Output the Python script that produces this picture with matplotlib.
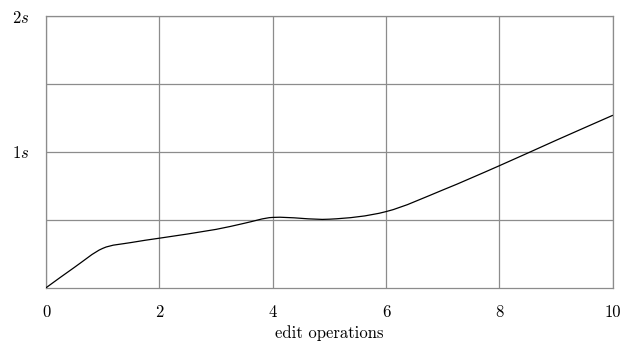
"""Runtime vs. number of edit operations (smooth curve, pgfplots look)."""
import matplotlib

matplotlib.use("Agg")
import matplotlib.pyplot as plt
import numpy as np
from matplotlib.patches import PathPatch
from matplotlib.path import Path

plt.rcParams["font.family"] = "cmr10"
plt.rcParams["mathtext.fontset"] = "cm"
plt.rcParams["axes.unicode_minus"] = False

edits = [0, 0.5, 1, 1.5, 2, 3, 3.5, 4, 5, 6, 7, 8, 9, 10]
seconds = [0.0, 0.15, 0.29, 0.333, 0.365, 0.43, 0.475, 0.518, 0.505, 0.561,
           0.72, 0.899, 1.086, 1.27]

x_ticks = [0, 2, 4, 6, 8, 10]
y_ticks = [1, 2]
y_tick_labels = [r"$1s$", r"$2s$"]
GRID = "#8c8c8c"


def smooth_path(xs, ys, tension=0.17):
    # cubic bezier through the points, like tikz "smooth"
    pts = np.column_stack([xs, ys])
    verts = [pts[0]]
    codes = [Path.MOVETO]
    n = len(pts)
    for i in range(n - 1):
        prev = pts[i - 1] if i > 0 else pts[i]
        nxt = pts[i + 2] if i + 2 < n else pts[i + 1]
        seg = np.linalg.norm(pts[i + 1] - pts[i])
        t1 = pts[i + 1] - prev
        t2 = nxt - pts[i]
        c1 = pts[i] + t1 / np.linalg.norm(t1) * seg / 3
        c2 = pts[i + 1] - t2 / np.linalg.norm(t2) * seg / 3
        verts += [c1, c2, pts[i + 1]]
        codes += [Path.CURVE4] * 3
    return Path(verts, codes)


fig = plt.figure(figsize=(6.26, 3.43), dpi=100)
ax = fig.add_axes([0.0735, 0.161, 0.9055, 0.792])

ax.add_patch(PathPatch(smooth_path(edits, seconds), facecolor="none",
                       edgecolor="black", lw=0.9, zorder=3))

ax.set_xlim(0, 10)
ax.set_ylim(0, 2)
ax.set_xticks(x_ticks)
ax.set_xticklabels([str(t) for t in x_ticks])
ax.set_yticks(y_ticks)
ax.set_yticklabels(y_tick_labels)
ax.set_yticks([0.5, 1.5], minor=True)
ax.tick_params(which="both", length=0, labelsize=12, pad=12)
ax.tick_params(axis="y", pad=12)
ax.grid(True, which="both", color=GRID, lw=0.9)
for s in ax.spines.values():
    s.set_color(GRID)
    s.set_linewidth(0.9)
ax.set_xlabel("edit operations", fontsize=12, labelpad=4)

fig.savefig("out.png", dpi=100)
